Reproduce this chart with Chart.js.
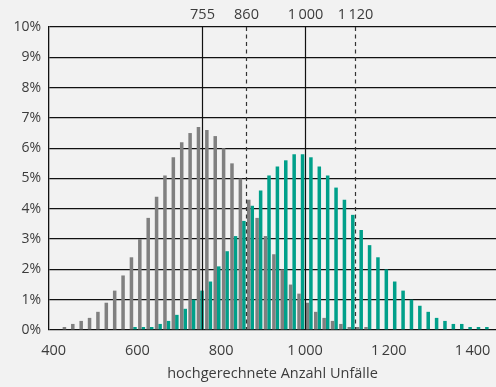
<!DOCTYPE html>
<html>
<head>
<meta charset="utf-8">
<script src="https://cdn.jsdelivr.net/npm/chart.js@4.4.1/dist/chart.umd.min.js"></script>
<style>
  html, body { margin: 0; padding: 0; background: #f2f2f2; }
  #wrap { width: 496px; height: 387px; position: relative; }
</style>
</head>
<body>
<div id="wrap"><canvas id="accident_canvas"></canvas></div>
<script>
// bin centres (number of accidents)
var bins = [430, 450, 470, 490, 510, 530, 550, 570, 590, 610,
            630, 650, 670, 690, 710, 730, 750, 770, 790, 810,
            830, 850, 870, 890, 910, 930, 950, 970, 990, 1010,
            1030, 1050, 1070, 1090, 1110, 1130, 1150, 1170, 1190, 1210,
            1230, 1250, 1270, 1290, 1310, 1330, 1350, 1370, 1390, 1410,
            1430];

// share in percent, grey distribution
var grey_share = [0.1, 0.2, 0.3, 0.4, 0.6, 0.9, 1.3, 1.8, 2.4, 3.0,
                  3.7, 4.4, 5.1, 5.7, 6.2, 6.5, 6.7, 6.6, 6.4, 6.0,
                  5.5, 5.0, 4.3, 3.7, 3.1, 2.5, 2.0, 1.5, 1.2, 0.9,
                  0.6, 0.4, 0.3, 0.2, 0.1, 0.1, 0.1, null, null, null,
                  null, null, null, null, null, null, null, null, null, null,
                  null];

// share in percent, teal distribution
var teal_share = [null, null, null, null, null, null, null, null, 0.1, 0.1,
                  0.1, 0.2, 0.3, 0.5, 0.7, 1.0, 1.3, 1.6, 2.1, 2.6,
                  3.1, 3.6, 4.1, 4.6, 5.1, 5.4, 5.6, 5.8, 5.8, 5.7,
                  5.4, 5.1, 4.7, 4.3, 3.8, 3.3, 2.8, 2.4, 2.0, 1.6,
                  1.3, 1.0, 0.8, 0.6, 0.4, 0.3, 0.2, 0.2, 0.1, 0.1,
                  0.1];

var x_ticks = [400, 600, 800, 1000, 1200, 1400];
var y_ticks = [0, 1, 2, 3, 4, 5, 6, 7, 8, 9, 10];

// marker lines on top
var ref_values = [755, 860, 1000, 1120];
var ref_labels = ['755', '860', '1\u2009000', '1\u2009120'];
var ref_dashed = [false, true, false, true];

var text_color = '#3c3c3c';
var font_family = "'Open Sans', 'DejaVu Sans', sans-serif";

format_number = function(v)
{
  var s = String(v);
  if (s.length > 3) {
    s = s.slice(0, s.length - 3) + '\u2009' + s.slice(s.length - 3);
  }
  return s;
};

to_points = function(values)
{
  var pts = [];
  for (var i = 0; i < bins.length; i++) {
    pts.push({ x: bins[i], y: values[i] });
  }
  return pts;
};

var background_plugin = {
  id: 'background_plugin',
  beforeDraw: function(chart) {
    var ctx = chart.ctx;
    ctx.save();
    ctx.fillStyle = '#f2f2f2';
    ctx.fillRect(0, 0, chart.width, chart.height);
    ctx.restore();
  }
};

var ref_lines_plugin = {
  id: 'ref_lines_plugin',
  afterDraw: function(chart) {
    var ctx = chart.ctx;
    var area = chart.chartArea;
    var x_scale = chart.scales.x;
    ctx.save();
    for (var i = 0; i < ref_values.length; i++) {
      var px = Math.round(x_scale.getPixelForValue(ref_values[i])) + 0.5;
      ctx.beginPath();
      ctx.lineWidth = 1.2;
      ctx.strokeStyle = ref_dashed[i] ? '#333333' : '#111111';
      ctx.setLineDash(ref_dashed[i] ? [4, 3.5] : []);
      ctx.moveTo(px, area.top);
      ctx.lineTo(px, area.bottom);
      ctx.stroke();

      ctx.setLineDash([]);
      ctx.fillStyle = text_color;
      ctx.font = '14.5px ' + font_family;
      ctx.textAlign = 'center';
      ctx.textBaseline = 'middle';
      ctx.fillText(ref_labels[i], px, 15);
    }
    ctx.restore();
  }
};

var ctx = document.getElementById('accident_canvas').getContext('2d');

new Chart(ctx, {
  type: 'bar',
  data: {
    datasets: [
      {
        label: 'grau',
        data: to_points(grey_share),
        backgroundColor: '#808080',
        borderWidth: 0
      },
      {
        label: 'tuerkis',
        data: to_points(teal_share),
        backgroundColor: '#00a08a',
        borderWidth: 0
      }
    ]
  },
  options: {
    responsive: true,
    maintainAspectRatio: false,
    animation: false,
    categoryPercentage: 0.84,
    barPercentage: 1.0,
    layout: { padding: { top: 27, right: 0, bottom: 0, left: 0 } },
    plugins: {
      legend: { display: false },
      tooltip: { enabled: false }
    },
    scales: {
      x: {
        type: 'linear',
        min: 389,
        max: 1456,
        offset: false,
        grid: { display: false, drawTicks: false },
        border: { display: false },
        afterBuildTicks: function(scale) {
          scale.ticks = x_ticks.map(function(v) { return { value: v }; });
        },
        afterFit: function(scale) {
          scale.height = 57;
          scale.paddingLeft = 0;
          scale.paddingRight = 0;
        },
        ticks: {
          color: text_color,
          font: { family: font_family, size: 14.5 },
          padding: 12,
          maxRotation: 0,
          autoSkip: false,
          callback: function(v) { return format_number(v); }
        },
        title: {
          display: true,
          text: 'hochgerechnete Anzahl Unfälle',
          color: text_color,
          font: { family: font_family, size: 14.5 },
          padding: { top: 0, bottom: 4 }
        }
      },
      y: {
        min: 0,
        max: 10,
        z: 1,
        afterBuildTicks: function(scale) {
          scale.ticks = y_ticks.map(function(v) { return { value: v }; });
        },
        afterFit: function(scale) { scale.width = 49; },
        grid: { color: '#111111', lineWidth: 1.3, drawTicks: false },
        border: { display: true, color: '#111111', width: 1.3 },
        ticks: {
          color: text_color,
          font: { family: font_family, size: 14 },
          padding: 8,
          callback: function(v) { return v + '%'; }
        }
      }
    }
  },
  plugins: [background_plugin, ref_lines_plugin]
});
</script>
</body>
</html>
